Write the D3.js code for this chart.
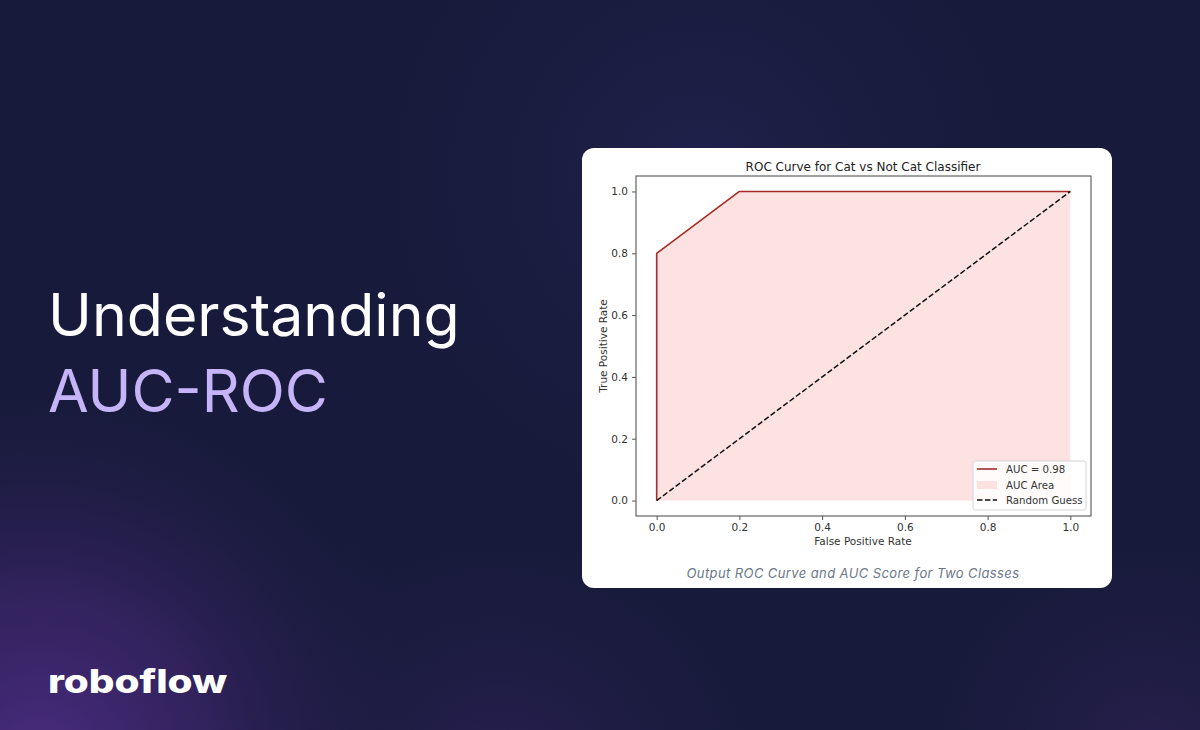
<!DOCTYPE html>
<html>
<head>
<meta charset="utf-8">
<script src="https://cdn.jsdelivr.net/npm/d3@7"></script>
<style>
  html, body { margin: 0; padding: 0; background: #171a3a; }
  svg { display: block; }
</style>
</head>
<body>
<svg id="chart" width="1200" height="730"></svg>
<script>
// ---- data ----
const fpr = [0.0, 0.0, 0.2, 1.0];
const tpr = [0.0, 0.8, 1.0, 1.0];
const diagX = [0.0, 1.0];
const diagY = [0.0, 1.0];
const xTicks = [0.0, 0.2, 0.4, 0.6, 0.8, 1.0];
const yTicks = [0.0, 0.2, 0.4, 0.6, 0.8, 1.0];
const aucValue = 0.98;
const legendLabels = ["AUC = " + aucValue.toFixed(2), "AUC Area", "Random Guess"];
const titleText = "ROC Curve for Cat vs Not Cat Classifier";
const xLabel = "False Positive Rate";
const yLabel = "True Positive Rate";
const captionText = "Output ROC Curve and AUC Score for Two Classes";

const svg = d3.select("#chart");

// ---- background ----
const defs = svg.append("defs");
function radial(id, cx, cy, r, stops) {
  const g = defs.append("radialGradient").attr("id", id)
    .attr("gradientUnits", "userSpaceOnUse")
    .attr("cx", cx).attr("cy", cy).attr("r", r);
  stops.forEach(s => g.append("stop").attr("offset", s[0]).attr("stop-color", s[1]).attr("stop-opacity", s[2]));
}
radial("glowBL", 40, 760, 420, [["0%", "#4a2c80", 1], ["40%", "#3a2568", 0.75], ["100%", "#171a3a", 0]]);
radial("glowTop", 700, 180, 420, [["0%", "#21224e", 0.9], ["100%", "#171a3a", 0]]);
radial("glowBR", 1150, 760, 300, [["0%", "#2a2050", 0.9], ["100%", "#171a3a", 0]]);
radial("glowBM", 500, 800, 350, [["0%", "#32225e", 0.7], ["100%", "#171a3a", 0]]);

svg.append("rect").attr("width", 1200).attr("height", 730).attr("fill", "#171a3a");
["glowTop", "glowBR", "glowBM", "glowBL"].forEach(id =>
  svg.append("rect").attr("width", 1200).attr("height", 730).attr("fill", `url(#${id})`));

// ---- left headline ----
svg.append("text").attr("x", 48).attr("y", 336)
  .attr("font-family", "Inter, 'Open Sans', sans-serif").attr("font-size", 59)
  .attr("font-weight", 400).attr("fill", "#ffffff").text("Understanding");
svg.append("text").attr("x", 48).attr("y", 412)
  .attr("font-family", "Inter, 'Open Sans', sans-serif").attr("font-size", 59)
  .attr("font-weight", 400).attr("fill", "#c6b4f8").text("AUC-ROC");

// ---- logo ----
svg.append("text").attr("x", 48).attr("y", 693)
  .attr("font-family", "Inter, sans-serif").attr("font-size", 32)
  .attr("font-weight", 800).attr("fill", "#ffffff")
  .attr("textLength", 179).attr("lengthAdjust", "spacingAndGlyphs")
  .text("roboflow");

// ---- card ----
svg.append("rect").attr("x", 582).attr("y", 148).attr("width", 530).attr("height", 440)
  .attr("rx", 12).attr("fill", "#ffffff");

// ---- axes geometry via scales ----
const x = d3.scaleLinear().domain([-0.05, 1.05]).range([636, 1091]);
const y = d3.scaleLinear().domain([-0.05, 1.05]).range([516, 176]);

const plot = svg.append("g");

// area fill
const area = d3.area().x((d, i) => x(fpr[i])).y0(y(0)).y1((d, i) => y(tpr[i]));
plot.append("path").datum(fpr).attr("d", area).attr("fill", "#fde2e2");

// ROC line
const line = d3.line().x((d, i) => x(fpr[i])).y((d, i) => y(tpr[i]));
plot.append("path").datum(fpr).attr("d", line)
  .attr("fill", "none").attr("stroke", "#a52a2a").attr("stroke-width", 1.6)
  .attr("stroke-linejoin", "round");

// diagonal
const dline = d3.line().x((d, i) => x(diagX[i])).y((d, i) => y(diagY[i]));
plot.append("path").datum(diagX).attr("d", dline)
  .attr("fill", "none").attr("stroke", "#111").attr("stroke-width", 1.5)
  .attr("stroke-dasharray", "5.5,2.4");

// frame
svg.append("rect").attr("x", x(-0.05)).attr("y", y(1.05))
  .attr("width", x(1.05) - x(-0.05)).attr("height", y(-0.05) - y(1.05))
  .attr("fill", "none").attr("stroke", "#555").attr("stroke-width", 1.1);

// axes
const tickFont = "DejaVu Sans, sans-serif";
const xAxis = d3.axisBottom(x).tickValues(xTicks).tickFormat(d3.format(".1f"))
  .tickSize(4).tickPadding(4);
const gx = svg.append("g").attr("transform", `translate(0,${y(-0.05)})`).call(xAxis);
const yAxis = d3.axisLeft(y).tickValues(yTicks).tickFormat(d3.format(".1f"))
  .tickSize(4).tickPadding(4);
const gy = svg.append("g").attr("transform", `translate(${x(-0.05)},0)`).call(yAxis);
[gx, gy].forEach(g => {
  g.select(".domain").remove();
  g.selectAll(".tick line").attr("stroke", "#555");
  g.selectAll(".tick text").attr("fill", "#333").attr("font-family", tickFont).attr("font-size", 10.5);
});

// title & labels
svg.append("text").attr("x", 863).attr("y", 171).attr("text-anchor", "middle")
  .attr("font-family", tickFont).attr("font-size", 12).attr("fill", "#222").text(titleText);
svg.append("text").attr("x", 863).attr("y", 545).attr("text-anchor", "middle")
  .attr("font-family", tickFont).attr("font-size", 10.5).attr("fill", "#333").text(xLabel);
svg.append("text").attr("transform", `translate(607,346) rotate(-90)`).attr("text-anchor", "middle")
  .attr("font-family", tickFont).attr("font-size", 10.5).attr("fill", "#333").text(yLabel);

// legend
const lg = svg.append("g");
lg.append("rect").attr("x", 973).attr("y", 461).attr("width", 113).attr("height", 49)
  .attr("rx", 2.5).attr("fill", "#fff").attr("fill-opacity", 0.85)
  .attr("stroke", "#d5d5d5").attr("stroke-width", 1);
const rows = [469, 485, 500];
lg.append("line").attr("x1", 977).attr("x2", 997).attr("y1", rows[0]).attr("y2", rows[0])
  .attr("stroke", "#a52a2a").attr("stroke-width", 1.6);
lg.append("rect").attr("x", 977).attr("y", rows[1] - 4).attr("width", 20).attr("height", 8)
  .attr("fill", "#fde2e2");
lg.append("line").attr("x1", 977).attr("x2", 997).attr("y1", rows[2]).attr("y2", rows[2])
  .attr("stroke", "#111").attr("stroke-width", 1.5).attr("stroke-dasharray", "5.5,2.4");
lg.selectAll("text.lab").data(legendLabels).enter().append("text")
  .attr("x", 1006).attr("y", (d, i) => rows[i] + 3.8)
  .attr("font-family", tickFont).attr("font-size", 10.2).attr("fill", "#333").text(d => d);

// caption
svg.append("text").attr("x", 853).attr("y", 578).attr("text-anchor", "middle")
  .attr("font-family", "Inter, sans-serif").attr("font-size", 13).attr("font-style", "italic")
  .attr("letter-spacing", 0.4).attr("fill", "#6b7789").text(captionText);
</script>
</body>
</html>
